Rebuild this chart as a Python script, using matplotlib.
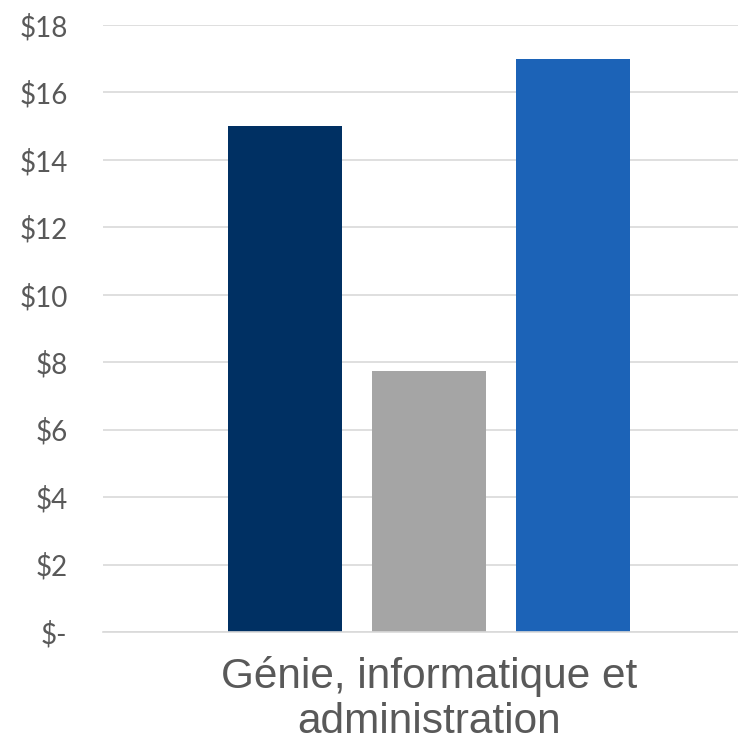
import matplotlib
matplotlib.use("Agg")
import matplotlib.pyplot as plt
from matplotlib.ticker import FuncFormatter

category = "Génie, informatique et\nadministration"
series_values = [15.0, 7.75, 17.0]
series_colors = ["#003063", "#A5A5A5", "#1C63B7"]
y_ticks = [0, 2, 4, 6, 8, 10, 12, 14, 16, 18]

fig = plt.figure(figsize=(7.38, 7.45), dpi=100)
ax = fig.add_axes([103 / 738, (745 - 632) / 745, (738 - 103) / 738, 607 / 745])

positions = [-1, 0, 1]
ax.bar(positions, series_values, width=114 / 144, color=series_colors, zorder=3)

ax.set_ylim(0, 18)
ax.set_xlim((103 - 429) / 144, (738 - 429) / 144)
ax.set_yticks(y_ticks)
ax.yaxis.set_major_formatter(FuncFormatter(lambda v, p: "$-" if v == 0 else f"${int(v)}"))
ax.grid(axis="y", color="#D9D9D9", linewidth=1.2, zorder=0)
ax.set_axisbelow(True)
for s in ["top", "right", "left"]:
    ax.spines[s].set_visible(False)
ax.spines["bottom"].set_color("#D9D9D9")
ax.spines["bottom"].set_linewidth(1.2)
ax.spines["bottom"].set_zorder(4)

ax.tick_params(axis="y", length=0, pad=25.5, labelsize=20, labelcolor="#595959")
for lbl in ax.get_yticklabels():
    lbl.set_family(["Lato", "DejaVu Sans"])
    lbl.set_verticalalignment("center_baseline")
ax.set_xticks([0])
ax.set_xticklabels([category], fontsize=30.5, color="#595959", family=["Liberation Sans", "DejaVu Sans"], linespacing=1.17)
ax.tick_params(axis="x", length=0, pad=17)

fig.savefig("out.png", dpi=100)
